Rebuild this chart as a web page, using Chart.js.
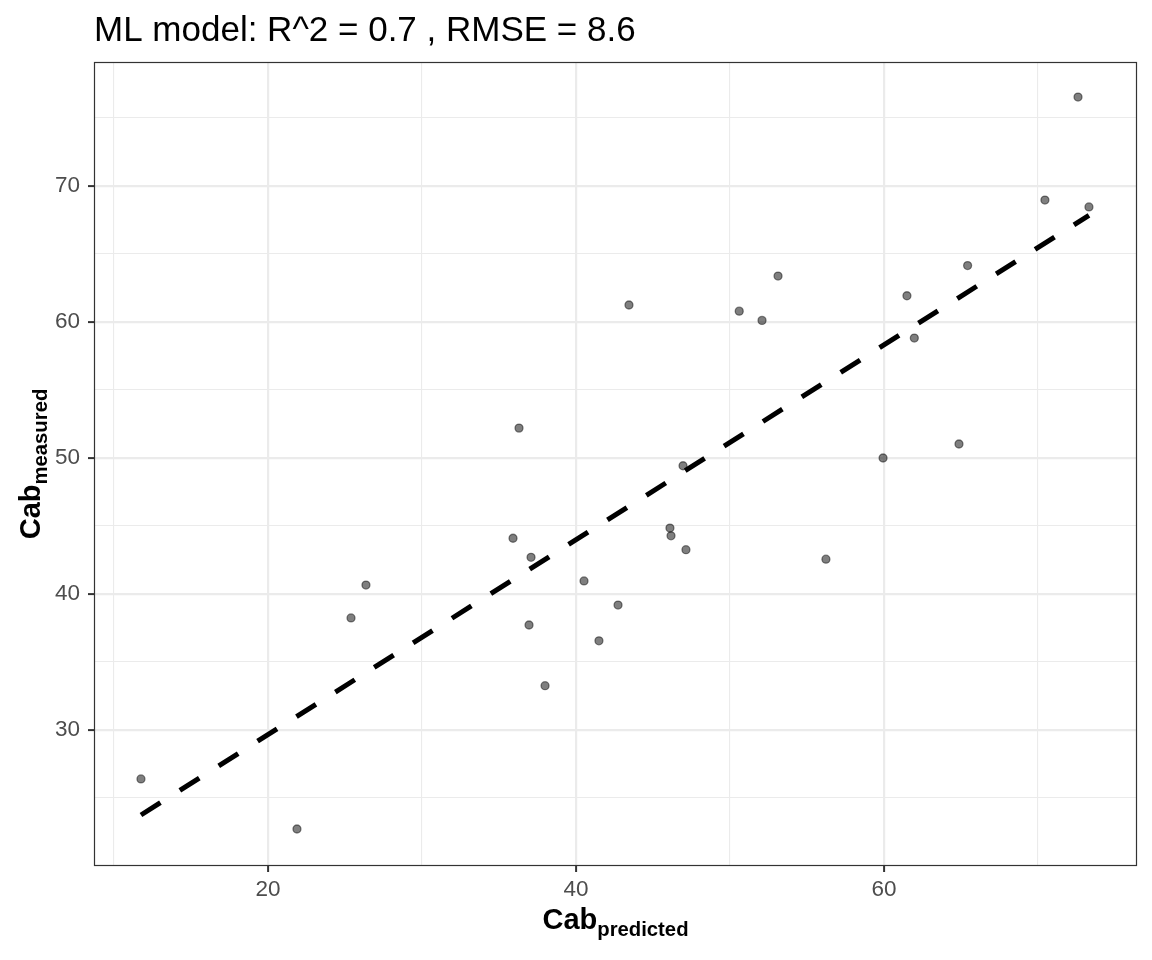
<!DOCTYPE html>
<html>
<head>
<meta charset="utf-8">
<script src="https://cdn.jsdelivr.net/npm/chart.js@4.4.0/dist/chart.umd.min.js"></script>
<style>
  html, body { margin: 0; padding: 0; background: #ffffff; }
  #wrap { width: 1152px; height: 960px; }
</style>
</head>
<body>
<div id="wrap"><canvas id="c" width="1152" height="960"></canvas></div>
<script>
// ---- data ----
const titleText = "ML model: R^2 = 0.7 , RMSE = 8.6";
const predicted = [11.75, 21.88, 25.39, 26.36, 35.91, 36.30, 37.08, 36.95, 37.99, 40.52,
                   41.49, 42.73, 43.44, 46.10, 46.17, 47.14, 46.95, 50.60, 52.08, 53.12,
                   56.23, 59.94, 61.49, 61.97, 64.87, 65.43, 70.45, 72.60, 73.31];
const measured  = [26.40, 22.72, 38.24, 40.66, 44.10, 52.20, 42.70, 37.72, 33.26, 40.96,
                   36.56, 39.19, 61.25, 44.85, 44.28, 43.26, 49.43, 60.80, 60.12, 63.38,
                   42.56, 50.00, 61.93, 58.82, 51.03, 64.15, 68.97, 76.54, 68.46];
const fitX = [11.75, 73.31];
const fitY = [23.75, 67.85];
const xGrid = [10, 20, 30, 40, 50, 60, 70];
const xMajor = [20, 40, 60];
const yGrid = [25, 30, 35, 40, 45, 50, 55, 60, 65, 70, 75];
const yMajor = [30, 40, 50, 60, 70];
const xRange = [8.70, 76.43];
const yRange = [20.00, 79.12];

const FONT = "'Liberation Sans', Arial, Helvetica, sans-serif";

const scatterPts = predicted.map((x, i) => ({ x: x, y: measured[i] }));
const fitPts = fitX.map((x, i) => ({ x: x, y: fitY[i] }));

const decorPlugin = {
  id: 'decor',
  afterDatasetsDraw(chart) {
    const ctx = chart.ctx;
    const a = chart.chartArea;
    ctx.save();
    ctx.strokeStyle = '#333333';
    ctx.lineWidth = 1.2;
    ctx.strokeRect(a.left + 0.5, a.top + 0.5, a.right - a.left - 1, a.bottom - a.top - 1);
    ctx.restore();
  },
  afterDraw(chart) {
    const ctx = chart.ctx;
    const a = chart.chartArea;
    ctx.save();
    // title
    ctx.fillStyle = '#000000';
    ctx.font = '35px ' + FONT;
    ctx.textAlign = 'left';
    ctx.textBaseline = 'alphabetic';
    ctx.fillText(titleText, a.left, 41);

    // x axis title with subscript
    const mainF = 'bold 29px ' + FONT;
    const subF = 'bold 20.3px ' + FONT;
    ctx.font = mainF;
    const wMain = ctx.measureText('Cab').width;
    ctx.font = subF;
    const wSubX = ctx.measureText('predicted').width;
    const cx = (a.left + a.right) / 2;
    let x0 = cx - (wMain + wSubX) / 2;
    ctx.font = mainF;
    ctx.fillText('Cab', x0, 929);
    ctx.font = subF;
    ctx.fillText('predicted', x0 + wMain, 936);

    // y axis title (rotated)
    ctx.font = subF;
    const wSubY = ctx.measureText('measured').width;
    const cy = (a.top + a.bottom) / 2;
    ctx.translate(40, cy);
    ctx.rotate(-Math.PI / 2);
    let s0 = -(wMain + wSubY) / 2;
    ctx.font = mainF;
    ctx.fillText('Cab', s0, 0);
    ctx.font = subF;
    ctx.fillText('measured', s0 + wMain, 7);
    ctx.restore();
  }
};

new Chart(document.getElementById('c'), {
  type: 'scatter',
  data: {
    datasets: [
      {
        type: 'line',
        label: 'fit',
        data: fitPts,
        borderColor: '#000000',
        borderWidth: 5,
        borderDash: [23, 23],
        borderCapStyle: 'butt',
        pointRadius: 0,
        fill: false,
        tension: 0,
        order: 0
      },
      {
        type: 'scatter',
        label: 'obs',
        data: scatterPts,
        backgroundColor: 'rgba(0,0,0,0.5)',
        borderColor: 'rgba(0,0,0,0.45)',
        borderWidth: 1.3,
        pointRadius: 4,
        order: 1
      }
    ]
  },
  options: {
    responsive: false,
    animation: false,
    devicePixelRatio: 1,
    layout: { padding: { top: 62, right: 15, left: 0, bottom: 0 } },
    plugins: { legend: { display: false }, title: { display: false }, tooltip: { enabled: false } },
    scales: {
      x: {
        type: 'linear',
        min: xRange[0], max: xRange[1],
        afterBuildTicks: s => { s.ticks = xGrid.map(v => ({ value: v })); },
        afterFit: s => { s.height = 94; },
        border: { display: false },
        grid: {
          color: '#ebebeb',
          lineWidth: c => xMajor.includes(c.tick.value) ? 2.2 : 1.1,
          drawTicks: true,
          tickLength: 6,
          tickWidth: 2,
          tickColor: c => xMajor.includes(c.tick.value) ? '#333333' : 'rgba(0,0,0,0)'
        },
        ticks: {
          autoSkip: false, maxRotation: 0, padding: 4,
          color: '#4d4d4d',
          font: { family: FONT, size: 22.5 },
          callback: v => xMajor.includes(v) ? String(v) : ''
        }
      },
      y: {
        type: 'linear',
        min: yRange[0], max: yRange[1],
        afterBuildTicks: s => { s.ticks = yGrid.map(v => ({ value: v })); },
        afterFit: s => { s.width = 94; },
        border: { display: false },
        grid: {
          color: '#ebebeb',
          lineWidth: c => yMajor.includes(c.tick.value) ? 2.2 : 1.1,
          drawTicks: true,
          tickLength: 6,
          tickWidth: 2,
          tickColor: c => yMajor.includes(c.tick.value) ? '#333333' : 'rgba(0,0,0,0)'
        },
        ticks: {
          autoSkip: false, padding: 8,
          color: '#4d4d4d',
          font: { family: FONT, size: 22.5 },
          callback: v => yMajor.includes(v) ? String(v) : ''
        }
      }
    }
  },
  plugins: [decorPlugin]
});
</script>
</body>
</html>
